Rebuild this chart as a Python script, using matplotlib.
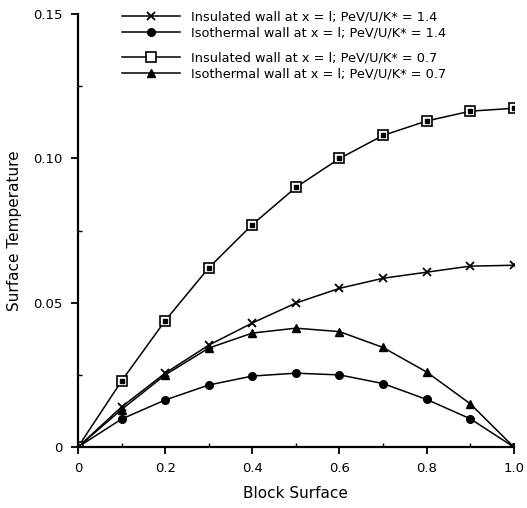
import numpy as np
import matplotlib
matplotlib.use("Agg")
import matplotlib.pyplot as plt
from matplotlib.lines import Line2D

# Datos
x = [0.0, 0.1, 0.2, 0.3, 0.4, 0.5, 0.6, 0.7, 0.8, 0.9, 1.0]
ins_14 = [0.0, 0.0139, 0.0256, 0.0353, 0.0430, 0.0499, 0.0550, 0.0585, 0.0606, 0.0627, 0.0630]
iso_14 = [0.0, 0.0097, 0.0163, 0.0215, 0.0246, 0.0256, 0.0250, 0.0220, 0.0165, 0.0098, 0.0]
ins_07 = [0.0, 0.0229, 0.0438, 0.0621, 0.0771, 0.0900, 0.1000, 0.1080, 0.1130, 0.1164, 0.1174]
iso_07 = [0.0, 0.0130, 0.0250, 0.0343, 0.0395, 0.0412, 0.0400, 0.0345, 0.0260, 0.0150, 0.0]

labels = [
    'Insulated wall at x = l; PeV/U/K* = 1.4',
    'Isothermal wall at x = l; PeV/U/K* = 1.4',
    'Insulated wall at x = l; PeV/U/K* = 0.7',
    'Isothermal wall at x = l; PeV/U/K* = 0.7',
]

plt.rcParams['font.family'] = ['DejaVu Sans']

fig = plt.figure(figsize=(5.27, 5.08), dpi=100)
ax = fig.add_axes([0.148, 0.12, 0.827, 0.852])

lw = 1.1
ax.plot(x, ins_14, color='black', lw=lw, marker='x', ms=6, mew=1.3)
ax.plot(x, iso_14, color='black', lw=lw, marker='o', ms=5.5)
ax.plot(x, ins_07, color='black', lw=lw, marker='s', ms=6.5, mfc='white', mew=1.2)
ax.plot(x, ins_07, ls='none', marker='s', ms=2.2, color='black')
ax.plot(x, iso_07, color='black', lw=lw, marker='^', ms=6)

ax.set_xlim(0, 1.0)
ax.set_ylim(0, 0.15)
ax.set_xticks([0, 0.2, 0.4, 0.6, 0.8, 1.0])
ax.set_xticklabels(['0', '0.2', '0.4', '0.6', '0.8', '1.0'])
ax.set_xticks([0.1, 0.3, 0.5, 0.7, 0.9], minor=True)
ax.set_yticks([0, 0.05, 0.10, 0.15])
ax.set_yticklabels(['0', '0.05', '0.10', '0.15'])
ax.set_yticks([0.025, 0.075, 0.125], minor=True)
ax.tick_params(which='major', direction='out', length=5, width=1.3, labelsize=9.5, pad=6)
ax.tick_params(which='minor', direction='in', length=3, width=1)
ax.spines['top'].set_visible(False)
ax.spines['right'].set_visible(False)
ax.spines['left'].set_linewidth(1.6)
ax.spines['bottom'].set_linewidth(1.6)

ax.set_xlabel('Block Surface', fontsize=11, labelpad=8)
ax.set_ylabel('Surface Temperature', fontsize=11, labelpad=8)

h1 = [Line2D([], [], color='black', lw=lw, marker='x', ms=6, mew=1.3),
      Line2D([], [], color='black', lw=lw, marker='o', ms=5.5)]
h2 = [Line2D([], [], color='black', lw=lw, marker='s', ms=6.5, mfc='white', mew=1.2),
      Line2D([], [], color='black', lw=lw, marker='^', ms=6)]

kw = dict(loc='upper left', frameon=False, fontsize=9.3, handlelength=4.5,
          handletextpad=0.8, labelspacing=0.2, borderpad=0, borderaxespad=0)
leg1 = fig.legend(h1, labels[:2], bbox_to_anchor=(0.232, 0.979), **kw)
leg2 = fig.legend(h2, labels[2:], bbox_to_anchor=(0.232, 0.898), **kw)

fig.savefig('out.png', dpi=100)
